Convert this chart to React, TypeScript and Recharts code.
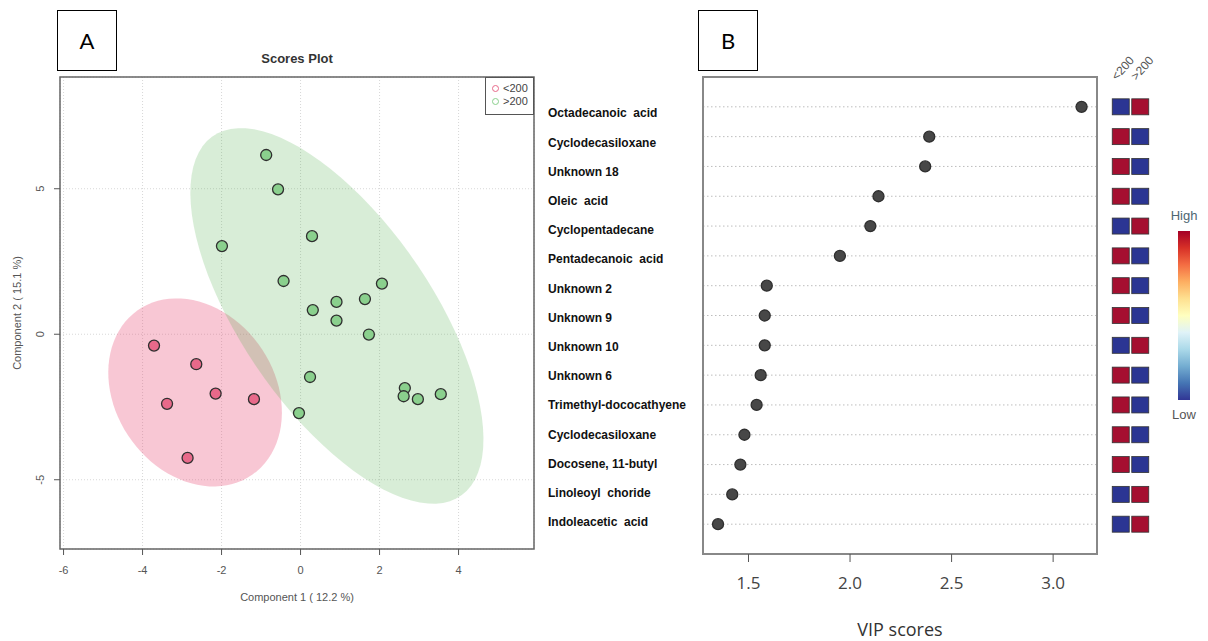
import {
  CartesianGrid,
  ComposedChart,
  ReferenceArea,
  Scatter,
  ScatterChart,
  XAxis,
  YAxis,
} from 'recharts';

// PLS-DA scores, component 1 / component 2
const lowScores = [
  { x: -3.71, y: -0.39 },
  { x: -2.64, y: -1.03 },
  { x: -2.15, y: -2.04 },
  { x: -1.18, y: -2.23 },
  { x: -3.38, y: -2.39 },
  { x: -2.86, y: -4.25 },
];

const highScores = [
  { x: -0.87, y: 6.16 },
  { x: -0.57, y: 4.98 },
  { x: -1.99, y: 3.03 },
  { x: 0.29, y: 3.37 },
  { x: -0.43, y: 1.83 },
  { x: 0.91, y: 1.11 },
  { x: 1.63, y: 1.21 },
  { x: 2.06, y: 1.74 },
  { x: 0.31, y: 0.83 },
  { x: 0.91, y: 0.47 },
  { x: 1.73, y: -0.01 },
  { x: 0.24, y: -1.47 },
  { x: 2.64, y: -1.85 },
  { x: 2.61, y: -2.13 },
  { x: 2.97, y: -2.23 },
  { x: 3.55, y: -2.06 },
  { x: -0.04, y: -2.71 },
];

// 95% confidence ellipses: centre, semi-axes, rotation (deg)
const lowEllipse = { cx: -2.67, cy: -2.0, a: 3.29, b: 2.11, angle: -75.9 };
const highEllipse = { cx: 0.92, cy: 0.63, a: 6.98, b: 2.59, angle: -65.8 };

const scoreXTicks = [-6, -4, -2, 0, 2, 4];
const scoreYTicks = [-5, 0, 5];

const compounds = [
  'Octadecanoic  acid',
  'Cyclodecasiloxane',
  'Unknown 18',
  'Oleic  acid',
  'Cyclopentadecane',
  'Pentadecanoic  acid',
  'Unknown 2',
  'Unknown 9',
  'Unknown 10',
  'Unknown 6',
  'Trimethyl-dococathyene',
  'Cyclodecasiloxane',
  'Docosene, 11-butyl',
  'Linoleoyl  choride',
  'Indoleacetic  acid',
];
const vipScores = [3.14, 2.39, 2.37, 2.14, 2.1, 1.95, 1.59, 1.58, 1.58, 1.56, 1.54, 1.48, 1.46, 1.42, 1.35];
// 1 = high, 0 = low
const levelLow200 = [0, 1, 1, 1, 0, 1, 1, 1, 0, 1, 1, 1, 1, 0, 0];
const levelHigh200 = [1, 0, 0, 0, 1, 0, 0, 0, 1, 0, 0, 0, 0, 1, 1];
const groups = ['<200', '>200'];
const vipTicks = [1.5, 2.0, 2.5, 3.0];

const rdylbu = ['#a50026', '#d73027', '#f46d43', '#fdae61', '#fee090', '#ffffbf', '#e0f3f8', '#abd9e9', '#74add1', '#4575b4', '#313695'];

function ellipsePoints(e: { cx: number; cy: number; a: number; b: number; angle: number }) {
  const th = (e.angle * Math.PI) / 180;
  const pts = [];
  for (let i = 0; i <= 90; i++) {
    const t = (i / 90) * 2 * Math.PI;
    pts.push({
      x: e.cx + e.a * Math.cos(th) * Math.cos(t) - e.b * Math.sin(th) * Math.sin(t),
      y: e.cy + e.a * Math.sin(th) * Math.cos(t) + e.b * Math.cos(th) * Math.sin(t),
    });
  }
  return pts;
}

const vipData = compounds.map((name, i) => ({ name, vip: vipScores[i], row: i + 1 }));
const heatData = compounds.flatMap((_, i) => [
  { col: 1, row: i + 1, v: levelLow200[i] },
  { col: 2, row: i + 1, v: levelHigh200[i] },
]);

const sans = '"Liberation Sans", Arial, sans-serif';
const noShape = () => <g />;

function Dot({ cx, cy, fill }: any) {
  return <circle cx={cx} cy={cy} r={5.5} fill={fill} stroke="#2f2f2f" strokeWidth={1.3} />;
}

function ScoreYTick({ y, payload }: any) {
  return (
    <text x={40} y={y} transform={`rotate(-90, 40, ${y})`} textAnchor="middle" dominantBaseline="central"
      fontSize={11} fill="#555" fontFamily={sans}>
      {payload.value}
    </text>
  );
}

function CompoundTick({ y, payload, index }: any) {
  const name = compounds[payload.value - 1];
  return (
    <text x={8} y={y + 6.6 - 0.61 * index} dominantBaseline="central" fontSize={12} fontWeight="bold"
      fill="#111" fontFamily={sans} style={{ whiteSpace: 'pre' }}>
      {name}
    </text>
  );
}

function GroupTick({ x, payload }: any) {
  const lx = x - 4;
  return (
    <text x={lx} y={81} transform={`rotate(-48, ${lx}, 81)`} fontSize={12} fill="#555" fontFamily={sans}>
      {groups[payload.value - 1]}
    </text>
  );
}

function HeatCell({ cx, cy, payload }: any) {
  return (
    <rect x={cx - 8.5} y={cy - 8} width={17} height={16} fill={payload.v ? '#a50f30' : '#2b3593'}
      stroke="#333" strokeWidth={0.8} />
  );
}

const box = {
  position: 'absolute' as const,
  border: '1.5px solid #000',
  width: 60,
  height: 61,
  display: 'flex',
  alignItems: 'center',
  justifyContent: 'center',
  fontSize: 22,
  fontFamily: 'Lato, "Open Sans", sans-serif',
  boxSizing: 'border-box' as const,
};

export default function App() {
  return (
    <div style={{ position: 'absolute', left: 0, top: 0, width: 1208, height: 641, background: '#fff', fontFamily: sans }}>
      <div style={{ ...box, left: 57, top: 10 }}>A</div>
      <div style={{ ...box, left: 698, top: 10 }}>B</div>
      <div style={{ position: 'absolute', left: 60, width: 474, top: 51, textAlign: 'center', fontSize: 13, fontWeight: 'bold', color: '#333' }}>
        Scores Plot
      </div>

      <div style={{ position: 'absolute', left: 0, top: 0 }}>
        <ComposedChart width={560} height={641} margin={{ top: 77, right: 26, bottom: 0, left: 0 }}>
          <CartesianGrid stroke="#d8d8d8" strokeDasharray="1 2" />
          <XAxis type="number" dataKey="x" domain={[-6.09, 5.91]} ticks={scoreXTicks} allowDataOverflow
            height={92} tickSize={6} tickMargin={11} stroke="#555" axisLine={false}
            tick={{ fontSize: 11, fill: '#555', fontFamily: sans }}
            label={{ value: 'Component 1 ( 12.2 %)', position: 'insideBottom', offset: 40, fontSize: 11, fill: '#555', fontFamily: sans }} />
          <YAxis type="number" dataKey="y" domain={[-7.38, 8.84]} ticks={scoreYTicks} allowDataOverflow
            width={60} tickSize={6} stroke="#555" axisLine={false} tick={<ScoreYTick />}
            label={{ value: 'Component 2 ( 15.1 %)', angle: -90, position: 'insideLeft', offset: 17, fontSize: 11, fill: '#555', fontFamily: sans, style: { textAnchor: 'middle' } }} />
          <Scatter data={ellipsePoints(lowEllipse)} shape={noShape} line={{ fill: 'rgba(232,80,120,0.32)', stroke: 'none' }} isAnimationActive={false} />
          <Scatter data={ellipsePoints(highEllipse)} shape={noShape} line={{ fill: 'rgba(77,175,74,0.22)', stroke: 'none' }} isAnimationActive={false} />
          <Scatter data={highScores} fill="#8ad08d" shape={<Dot />} isAnimationActive={false} />
          <Scatter data={lowScores} fill="#e8698a" shape={<Dot />} isAnimationActive={false} />
          <ReferenceArea x1={-6.09} x2={5.91} y1={-7.38} y2={8.84} fill="none" stroke="#666" strokeWidth={1.5} />
        </ComposedChart>
      </div>

      <div style={{ position: 'absolute', left: 485, top: 77, width: 49, height: 38, border: '1px solid #555', boxSizing: 'border-box', fontSize: 11, color: '#444' }}>
        <div style={{ position: 'absolute', left: 6, top: 7, width: 5, height: 5, borderRadius: '50%', border: '1.3px solid #e8698a' }} />
        <div style={{ position: 'absolute', left: 17, top: 4 }}>&lt;200</div>
        <div style={{ position: 'absolute', left: 6, top: 20, width: 5, height: 5, borderRadius: '50%', border: '1.3px solid #8ad08d' }} />
        <div style={{ position: 'absolute', left: 17, top: 17 }}>&gt;200</div>
      </div>

      <div style={{ position: 'absolute', left: 540, top: 0 }}>
        <ComposedChart width={570} height={641} data={vipData} margin={{ top: 77, right: 13, bottom: 0, left: 0 }}>
          <CartesianGrid vertical={false} stroke="#bdbdbd" strokeDasharray="1.5 2.5" />
          <XAxis type="number" dataKey="vip" domain={[1.276, 3.216]} ticks={vipTicks} allowDataOverflow
            height={87} tickSize={8} tickMargin={15} stroke="#555" axisLine={false}
            tickFormatter={(v) => Number(v).toFixed(1)}
            tick={{ fontSize: 17, fill: '#444', fontFamily: '"Open Sans", sans-serif' }}
            label={{ value: 'VIP scores', position: 'insideBottom', offset: 5, fontSize: 18, fill: '#333', fontFamily: '"Open Sans", sans-serif' }} />
          <YAxis type="number" dataKey="row" domain={[0, 16]} reversed ticks={vipData.map((d) => d.row)}
            width={163} axisLine={false} tickLine={false} tick={<CompoundTick />} interval={0} />
          <Scatter dataKey="vip" fill="#474747" shape={<Dot />} isAnimationActive={false} />
          <ReferenceArea x1={1.276} x2={3.216} y1={0} y2={16} fill="none" stroke="#888" strokeWidth={2} />
        </ComposedChart>
      </div>

      <div style={{ position: 'absolute', left: 1100, top: 0 }}>
        <ScatterChart width={60} height={641} margin={{ top: 47, right: 10, bottom: 87, left: 11 }}>
          <XAxis type="number" dataKey="col" orientation="top" domain={[0.5, 2.5]} ticks={[1, 2]} height={30}
            axisLine={false} tickLine={false} tick={<GroupTick />} interval={0} />
          <YAxis type="number" dataKey="row" domain={[0, 16]} reversed hide />
          <Scatter data={heatData} shape={<HeatCell />} isAnimationActive={false} />
        </ScatterChart>
      </div>

      <div style={{ position: 'absolute', left: 1166, top: 208, width: 36, textAlign: 'center', fontSize: 13, color: '#4d6672' }}>High</div>
      <div style={{ position: 'absolute', left: 1178, top: 231, width: 12, height: 169, background: `linear-gradient(to bottom, ${rdylbu.join(', ')})` }} />
      <div style={{ position: 'absolute', left: 1166, top: 407, width: 36, textAlign: 'center', fontSize: 13, color: '#555' }}>Low</div>
    </div>
  );
}
